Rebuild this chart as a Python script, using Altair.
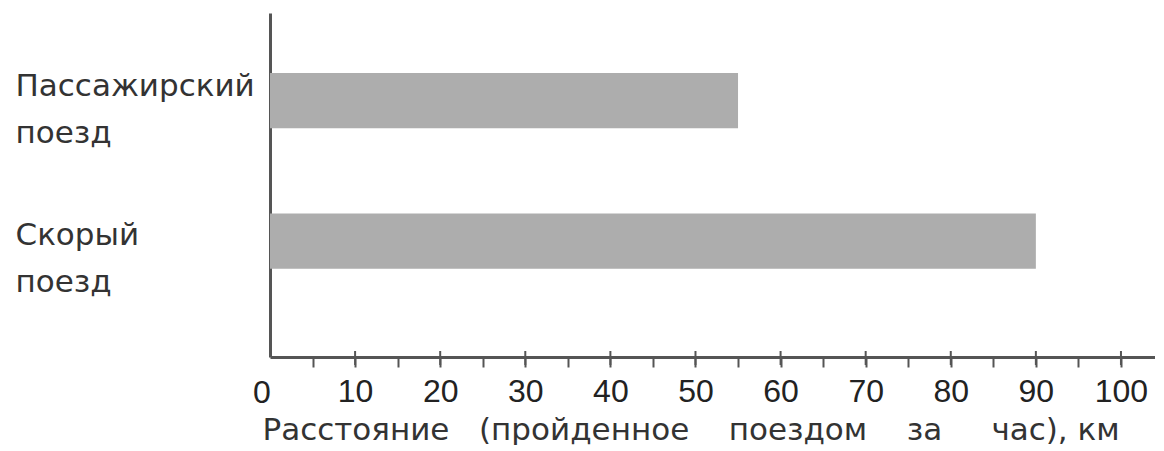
import altair as alt
import pandas as pd

categories = ["Пассажирский поезд", "Скорый поезд"]
distances = [55, 90]
major_ticks = [10, 20, 30, 40, 50, 60, 70, 80, 90, 100]
all_ticks = [5, 10, 15, 20, 25, 30, 35, 40, 45, 50, 55, 60, 65, 70, 75, 80, 85, 90, 95, 100]

S = "\u00a0"
x_title = ("Расстояние" + S * 3 + "(пройденное" + S * 4 + "поездом" + S * 4
           + "за" + S * 5 + "час)," + S + "км")

df = pd.DataFrame({"cat": categories, "dist": distances})
ticks_df = pd.DataFrame({"t": major_ticks})

W = 885
H = 344

x_scale = alt.Scale(domain=[0, 104], nice=False, zero=True)

bars = alt.Chart(df).mark_bar(color="#adadad").encode(
    x=alt.X("dist:Q", scale=x_scale,
            axis=alt.Axis(
                values=all_ticks,
                title=x_title,
                titleFont="DejaVu Sans", titleFontSize=31, titleFontWeight="normal",
                titleColor="#333333", titleAnchor="start", titleAlign="left", titleX=-8,
                titlePadding=8,
                labelFont="Liberation Sans Narrow, Liberation Sans", labelFontSize=32,
                labelColor="#222222",
                labelExpr="datum.value % 10 === 0 ? datum.label : ''",
                labelPadding=9,
                grid=False, domainColor="#555555", domainWidth=3,
                tickColor="#555555", tickWidth=2, tickSize=10,
                labelFlush=False, labelOverlap=False,
            )),
    y=alt.Y("cat:N", sort=categories,
            scale=alt.Scale(paddingInner=0.6071, paddingOuter=0.5286, align=0.405),
            axis=alt.Axis(
                title=None, ticks=False,
                labelFont="DejaVu Sans", labelFontSize=31, labelColor="#333333",
                labelAlign="left", labelPadding=255, labelLineHeight=47,
                labelLimit=0,
                labelExpr="split(datum.label, ' ')",
                labelOffset={"condition": {"test": "datum.value === 'Пассажирский поезд'", "value": -14},
                             "value": -5},
                labelBaseline="middle",
                domainColor="#555555", domainWidth=3,
            )),
)

zero_label = alt.Chart(pd.DataFrame({"t": [0]})).mark_text(
    font="Liberation Sans Narrow, Liberation Sans", fontSize=32, color="#222222",
    baseline="top", dx=-8
).encode(x=alt.X("t:Q", scale=x_scale), y=alt.value(H + 21), text="t:Q")

major = alt.Chart(ticks_df).mark_rule(color="#555555", strokeWidth=2).encode(
    x=alt.X("t:Q", scale=x_scale),
    y=alt.value(H - 6),
    y2=alt.value(H + 8),
)

chart = alt.layer(bars, major, zero_label).properties(
    width=W, height=H,
    background="white",
    padding={"left": 7, "top": 5, "right": 0, "bottom": 0},
).configure_view(stroke=None)

chart.save("out.html", embed_options={"renderer": "svg", "actions": False})
